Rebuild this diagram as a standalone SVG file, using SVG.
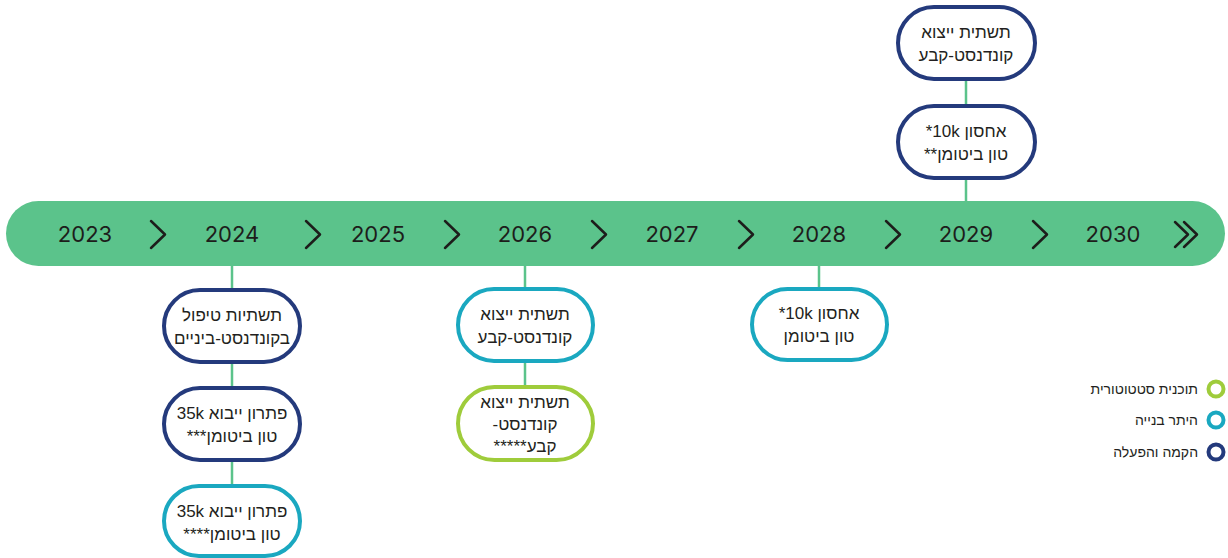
<svg xmlns="http://www.w3.org/2000/svg" width="1228" height="558" viewBox="0 0 1228 558">
<style>
.band{fill:#5bc38b}
.yr{font-family:Inter,"Liberation Sans",sans-serif;font-size:22px;fill:#1d1d1b;text-anchor:middle}
.chev{fill:none;stroke:#1d1d1b;stroke-width:2.5;stroke-linecap:round;stroke-linejoin:round}
.conn{stroke:#5bc38b;stroke-width:2.5}
.node{fill:#fff;stroke-width:4}
.navy{stroke:#243a7c}
.teal{stroke:#1aa8c0}
.lime{stroke:#9fcc3b}
.t{font-family:"Liberation Sans","DejaVu Sans",sans-serif;font-size:17px;fill:#231f20;text-anchor:middle;direction:rtl}
.lg{font-family:"Liberation Sans","DejaVu Sans",sans-serif;font-size:14px;fill:#231f20;text-anchor:start;direction:rtl}
.lc{fill:none;stroke-width:4}
</style>
<g id="connectors">
<line class="conn" x1="966" y1="80" x2="966" y2="105"/>
<line class="conn" x1="966" y1="179" x2="966" y2="202"/>
<line class="conn" x1="232" y1="265" x2="232" y2="289"/>
<line class="conn" x1="232" y1="363" x2="232" y2="387"/>
<line class="conn" x1="232" y1="461" x2="232" y2="485"/>
<line class="conn" x1="525" y1="265" x2="525" y2="288"/>
<line class="conn" x1="525" y1="362" x2="525" y2="386"/>
<line class="conn" x1="819" y1="265" x2="819" y2="288"/>
</g>
<g id="timeline">
<rect class="band" x="6" y="201" width="1219" height="65" rx="32.5"/>
<text class="yr" x="85" y="242">2023</text>
<text class="yr" x="232" y="242">2024</text>
<text class="yr" x="378" y="242">2025</text>
<text class="yr" x="525" y="242">2026</text>
<text class="yr" x="672" y="242">2027</text>
<text class="yr" x="819" y="242">2028</text>
<text class="yr" x="966" y="242">2029</text>
<text class="yr" x="1113" y="242">2030</text>
<path class="chev" d="M151 221 L165 234.5 L151 248"/>
<path class="chev" d="M306 221 L320 234.5 L306 248"/>
<path class="chev" d="M445 221 L459 234.5 L445 248"/>
<path class="chev" d="M592 221 L606 234.5 L592 248"/>
<path class="chev" d="M739 221 L753 234.5 L739 248"/>
<path class="chev" d="M886 221 L900 234.5 L886 248"/>
<path class="chev" d="M1033 221 L1047 234.5 L1033 248"/>
<path class="chev" d="M1175 222 L1188 234.5 L1175 247 M1184 222 L1197 234.5 L1184 247"/>
</g>
<g id="n2029a">
<rect class="node navy" x="898" y="7" width="137" height="72" rx="36"/>
<text class="t" x="966" y="38">תשתית ייצוא</text>
<text class="t" x="966" y="61">קונדנסט-קבע</text>
</g>
<g id="n2029b">
<rect class="node navy" x="898" y="106" width="137" height="72" rx="36"/>
<text class="t" x="966" y="137">אחסון 10k*</text>
<text class="t" x="966" y="160">טון ביטומן**</text>
</g>
<g id="n2024a">
<rect class="node navy" x="164" y="290" width="136" height="72" rx="36"/>
<text class="t" x="232" y="321">תשתיות טיפול</text>
<text class="t" x="232" y="344">בקונדנסט-ביניים</text>
</g>
<g id="n2024b">
<rect class="node navy" x="164" y="388" width="136" height="72" rx="36"/>
<text class="t" x="232" y="419">פתרון ייבוא 35k</text>
<text class="t" x="232" y="442">טון ביטומן***</text>
</g>
<g id="n2024c">
<rect class="node teal" x="164" y="486" width="136" height="70" rx="35"/>
<text class="t" x="232" y="517">פתרון ייבוא 35k</text>
<text class="t" x="232" y="540">טון ביטומן****</text>
</g>
<g id="n2026a">
<rect class="node teal" x="458" y="289" width="135" height="72" rx="36"/>
<text class="t" x="525" y="320">תשתית ייצוא</text>
<text class="t" x="525" y="343">קונדנסט-קבע</text>
</g>
<g id="n2026b">
<rect class="node lime" x="458" y="387" width="135" height="73" rx="36.5"/>
<text class="t" x="525" y="408">תשתית ייצוא</text>
<text class="t" x="525" y="430">קונדנסט-</text>
<text class="t" x="525" y="452">קבע*****</text>
</g>
<g id="n2028">
<rect class="node teal" x="752" y="289" width="135" height="71" rx="35.5"/>
<text class="t" x="819" y="319">אחסון 10k*</text>
<text class="t" x="819" y="342">טון ביטומן</text>
</g>
<g id="legend">
<circle class="lc lime" cx="1216" cy="389" r="7.5"/>
<circle class="lc teal" cx="1216" cy="420" r="7.5"/>
<circle class="lc navy" cx="1216" cy="452" r="7.5"/>
<text class="lg" x="1198" y="394">תוכנית סטטוטורית</text>
<text class="lg" x="1198" y="425">היתר בנייה</text>
<text class="lg" x="1198" y="457">הקמה והפעלה</text>
</g>
</svg>
